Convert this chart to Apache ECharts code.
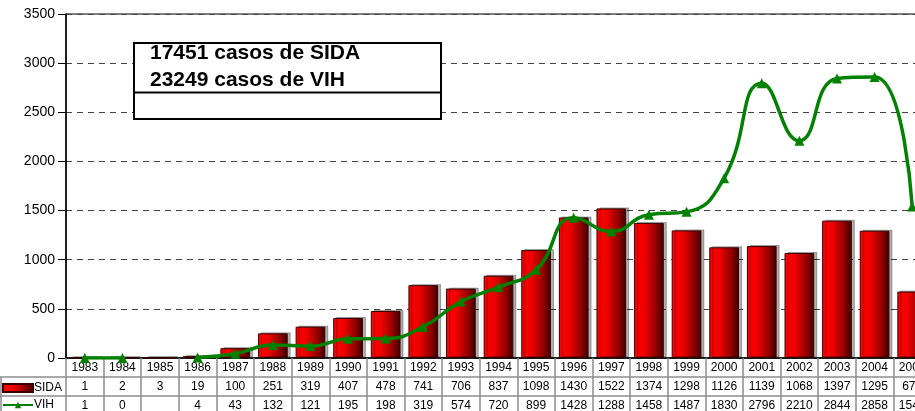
<!DOCTYPE html>
<html><head><meta charset="utf-8">
<script src="https://cdn.jsdelivr.net/npm/echarts@6/dist/echarts.min.js"></script>
<style>html,body{margin:0;padding:0;background:#fff}#c{width:915px;height:411px}</style>
</head><body><div id="c"></div>
<script>
const years = ['1983','1984','1985','1986','1987','1988','1989','1990','1991','1992','1993','1994','1995','1996','1997','1998','1999','2000','2001','2002','2003','2004','2005'];
const sida = [1,2,3,19,100,251,319,407,478,741,706,837,1098,1430,1522,1374,1298,1126,1139,1068,1397,1295,676];
const vih = [1,0,null,4,43,132,121,195,198,319,574,720,899,1428,1288,1458,1487,1830,2796,2210,2844,2858,1542];
const boxLines = ['17451 casos de SIDA','23249 casos de VIH'];
const seriesNames = ['SIDA','VIH'];

const FONT = 'Liberation Sans, Arial, sans-serif';
const chart = echarts.init(document.getElementById('c'));
const redGrad = new echarts.graphic.LinearGradient(0,0,1,0,[
  {offset:0,color:'#ff0000'},{offset:0.35,color:'#f00000'},{offset:0.75,color:'#900000'},{offset:1,color:'#3a0000'}
]);
const tableColor = '#8c8c8c';
chart.setOption({
  animation:false,
  backgroundColor:'#fff',
  textStyle:{fontFamily:FONT},
  grid:{left:66,top:14,height:344,width:865,outerBoundsMode:'none',containLabel:false,show:true,borderColor:'#000',borderWidth:1,backgroundColor:'transparent'},
  legend:{
    orient:'vertical',left:2,top:382,height:80,padding:0,itemGap:5,itemWidth:30,itemHeight:8,
    textStyle:{fontSize:12,color:'#000',fontFamily:FONT,padding:[0,0,0,-4]},
    data:[{name:seriesNames[0],icon:'rect'},{name:seriesNames[1]}]
  },
  xAxis:{
    type:'category',data:years,boundaryGap:true,
    axisLine:{lineStyle:{color:'#000',width:1.5}},
    axisTick:{show:true,interval:0,length:55,lineStyle:{color:tableColor,width:1.5}},
    axisLabel:{
      interval:0,margin:0,color:'#000',fontSize:12,hideOverlap:false,
      formatter:(v,i)=>`{a|${v}}\n{a|${sida[i]}}\n{a|${vih[i]==null?' ':vih[i]}}`,
      rich:{a:{fontSize:12,lineHeight:19,color:'#000',fontFamily:FONT}}
    }
  },
  yAxis:{
    type:'value',min:0,max:3500,interval:500,
    axisLine:{show:true,lineStyle:{color:'#000',width:1.5}},
    axisTick:{show:true,length:8,lineStyle:{color:'#000'}},
    axisLabel:{color:'#000',fontSize:14,margin:11,fontFamily:FONT,formatter:v=>String(v)},
    splitLine:{lineStyle:{color:'#444',type:[6,5],width:1}}
  },
  series:[
    {name:seriesNames[0],type:'bar',data:sida,barWidth:'79%',
     itemStyle:{color:redGrad,borderColor:'#3a0000',borderWidth:1,shadowColor:'rgba(0,0,0,0.3)',shadowOffsetX:3,shadowOffsetY:-1,shadowBlur:0}},
    {name:seriesNames[1],type:'line',data:vih,smooth:0.5,connectNulls:false,
     symbol:'triangle',symbolSize:10,showAllSymbol:true,
     lineStyle:{color:'#008000',width:3.5},itemStyle:{color:'#008000'},z:5}
  ],
  graphic:[
    {type:'rect',shape:{x:134,y:43,width:307,height:76},style:{fill:'#fff',stroke:'#000',lineWidth:2},z:10},
    {type:'line',shape:{x1:134,y1:92.5,x2:441,y2:92.5},style:{stroke:'#000',lineWidth:2},z:11},
    {type:'text',x:150,y:53,style:{text:boxLines[0],font:'bold 21px '+FONT,fill:'#000',verticalAlign:'middle'},z:11},
    {type:'text',x:150,y:80.5,style:{text:boxLines[1],font:'bold 21px '+FONT,fill:'#000',verticalAlign:'middle'},z:11},
    {type:'line',shape:{x1:0,y1:377,x2:915,y2:377},style:{stroke:tableColor,lineWidth:1.5},z:1},
    {type:'line',shape:{x1:0,y1:396,x2:915,y2:396},style:{stroke:tableColor,lineWidth:1.5},z:1},
    {type:'line',shape:{x1:1,y1:377,x2:1,y2:411},style:{stroke:tableColor,lineWidth:1.5},z:1}
  ]
});
</script></body></html>
